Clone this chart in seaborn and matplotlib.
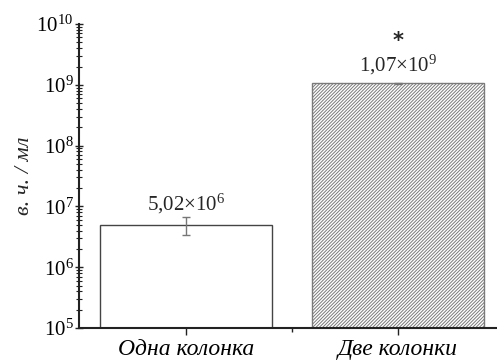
import matplotlib
matplotlib.use("Agg")
import matplotlib.pyplot as plt
import matplotlib.ticker as mticker
import seaborn as sns
import pandas as pd
import numpy as np

categories = ["Одна колонка", "Две колонки"]
values = [5.02e6, 1.07e9]
errors = [1.65e6, 0.02e9]
labels = ["5,02×10$^{6}$", "1,07×10$^{9}$"]
significance = ["", "*"]
ylabel = "в. ч. / мл"

sns.set_theme(style="white")
plt.rcParams["font.family"] = ["Liberation Serif", "DejaVu Serif"]
plt.rcParams["mathtext.fontset"] = "custom"
plt.rcParams["mathtext.rm"] = "Liberation Serif"
plt.rcParams["mathtext.it"] = "Liberation Serif:italic"
plt.rcParams["hatch.linewidth"] = 0.7

df = pd.DataFrame({"cat": categories, "val": values})

fig = plt.figure(figsize=(4.97, 3.61), dpi=100)
ax = fig.add_axes([0.159, 0.0914, 0.841, 0.8421])

sns.barplot(data=df, x="cat", y="val", ax=ax, width=0.81,
            color="white", edgecolor="#444444", linewidth=1.0, errorbar=None)
bars = ax.patches
bars[0].set_facecolor("white")
bars[1].set_facecolor("white")
bars[1].set_hatch("//////////")
if hasattr(bars[1], "set_hatchcolor"):
    bars[1].set_hatchcolor("#8a8a8a")
    bars[1].set_edgecolor("#555555")
else:
    bars[1].set_edgecolor("#7a7a7a")

ax.set_yscale("log")
ax.set_ylim(1e5, 1e10)
ax.set_xlim(-0.505, 1.467)

xs = np.arange(len(categories))
ax.errorbar(xs, values, yerr=errors, fmt="none", ecolor="#777777",
            elinewidth=1.0, capsize=3, capthick=1.0)

label_offsets = [1, 4]
for x, v, e, lab, sig, off in zip(xs, values, errors, labels, significance, label_offsets):
    top = v + e
    ax.annotate(lab, (x, top), xytext=(0, off), textcoords="offset points",
                ha="center", va="bottom", fontsize=15)
    if sig:
        ax.annotate(sig, (x, top), xytext=(0, off + 19), textcoords="offset points",
                    ha="center", va="bottom", fontsize=15, fontweight="bold",
                    family="DejaVu Sans")

ax.yaxis.set_major_locator(mticker.LogLocator(base=10, numticks=20))
ax.yaxis.set_minor_locator(mticker.LogLocator(base=10, subs=np.arange(2, 10), numticks=20))
ax.yaxis.set_major_formatter(mticker.FuncFormatter(lambda v, p: "$10^{%d}$" % int(round(np.log10(v)))))
ax.yaxis.set_minor_formatter(mticker.NullFormatter())

ax.xaxis.set_minor_locator(mticker.FixedLocator([0.5]))
ax.set_xlabel("")
ax.set_ylabel(ylabel, fontsize=16, style="italic", labelpad=2)
ax.set_xticks(xs)
ax.set_xticklabels(categories, fontsize=17, style="italic")

ax.tick_params(axis="y", which="major", direction="inout", length=6, width=1.0,
               labelsize=15, colors="#222222", left=True, pad=1)
ax.tick_params(axis="y", which="minor", direction="inout", length=4, width=0.8,
               colors="#222222", left=True)
ax.tick_params(axis="x", which="major", direction="out", length=5, width=1.0,
               bottom=True, pad=3, colors="#222222")
ax.tick_params(axis="x", which="minor", direction="out", length=3, width=1.0,
               bottom=True, colors="#222222")
for lab in ax.get_yticklabels() + ax.get_xticklabels():
    lab.set_color("black")

sns.despine(ax=ax)
for s in ["left", "bottom"]:
    ax.spines[s].set_color("#222222")
    ax.spines[s].set_linewidth(1.5)

fig.savefig("out.png", dpi=100)
